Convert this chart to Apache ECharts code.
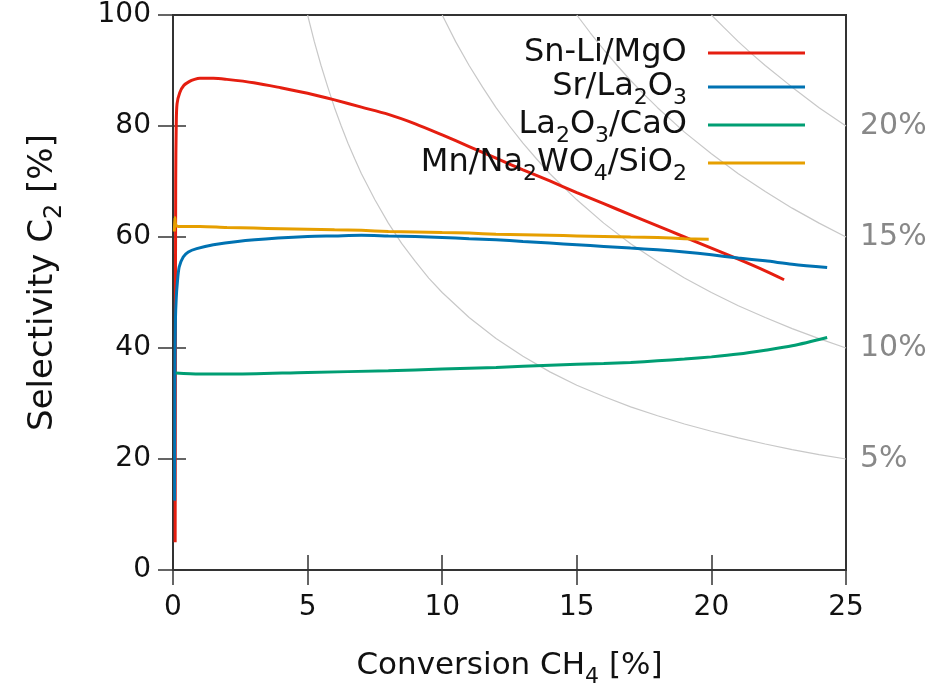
<!DOCTYPE html>
<html><head><meta charset="utf-8">
<script src="https://cdn.jsdelivr.net/npm/echarts@6/dist/echarts.min.js"></script>
<style>html,body{margin:0;padding:0;background:#fff}#c{width:936px;height:687px}</style>
</head><body><div id="c"></div>
<script>
// Axis ticks
const xTickStep = 5;
const yTickStep = 20;
// Right axis: iso-yield labels placed at selectivity positions
const yieldTickValues = [20, 40, 60, 80];
const yieldTickLabels = ['5%', '10%', '15%', '20%'];

// Series names
const seriesNames = ['Sn-Li/MgO', 'Sr/La2O3', 'La2O3/CaO', 'Mn/Na2WO4/SiO2'];

// Sn-Li/MgO
const snLiX = [0.08, 0.09, 0.10, 0.12, 0.15, 0.25, 0.4, 0.6, 0.8, 1.0, 1.5, 2, 3, 4, 5, 6, 7, 8, 9, 10, 11, 12, 13, 14, 15, 16, 17, 18, 19, 20, 21, 22, 22.7];
const snLiY = [5, 40, 70, 80, 84, 86, 87.3, 88, 88.4, 88.6, 88.6, 88.4, 87.8, 86.9, 85.9, 84.7, 83.4, 82.1, 80.4, 78.4, 76.3, 74.2, 72.1, 70.1, 68.0, 66.0, 64.0, 62.0, 60.0, 58.0, 56.0, 53.9, 52.3];

// Sr/La2O3
const srLaX = [0.06, 0.07, 0.09, 0.12, 0.16, 0.23, 0.38, 0.57, 0.88, 1.5, 2.4, 3.9, 5, 6, 7, 8, 9, 10, 11, 12, 13, 14, 15, 16, 17, 18, 19, 20, 21, 22, 23, 24.3];
const srLaY = [12.5, 35, 45, 49, 51.7, 54.6, 56.4, 57.3, 57.9, 58.6, 59.2, 59.8, 60.1, 60.2, 60.3, 60.2, 60.1, 59.9, 59.7, 59.5, 59.2, 58.9, 58.6, 58.3, 58.0, 57.7, 57.3, 56.8, 56.2, 55.7, 55.1, 54.5];

// La2O3/CaO
const laCaX = [0.1, 1, 2, 5, 8, 10, 12, 14, 16, 17, 18, 19, 20, 21, 22, 23, 24.3];
const laCaY = [35.5, 35.3, 35.3, 35.6, 35.9, 36.2, 36.5, 36.9, 37.2, 37.4, 37.7, 38.0, 38.4, 38.9, 39.6, 40.4, 41.9];

// Mn/Na2WO4/SiO2
const mnNaX = [0.05, 0.07, 0.1, 0.2, 1, 2, 3, 4, 5, 6, 7, 8, 9, 10, 11, 12, 13, 14, 15, 16, 17, 18, 19, 19.9];
const mnNaY = [61, 63.5, 62.2, 61.9, 61.9, 61.7, 61.6, 61.5, 61.4, 61.3, 61.2, 61.0, 60.9, 60.8, 60.7, 60.5, 60.4, 60.3, 60.2, 60.1, 60.0, 59.9, 59.7, 59.6];

// Iso-yield guide curves
const iso5X = [5, 5.25, 5.5, 5.75, 6, 6.25, 6.5, 6.75, 7, 7.5, 8, 8.5, 9, 9.5, 10, 11, 12, 13, 14, 15, 16, 17, 18, 19, 20, 21, 22, 23, 24, 25];
const iso5Y = [100, 95.2, 90.9, 87.0, 83.3, 80, 76.9, 74.1, 71.4, 66.7, 62.5, 58.8, 55.6, 52.6, 50, 45.5, 41.7, 38.5, 35.7, 33.3, 31.25, 29.4, 27.8, 26.3, 25, 23.8, 22.7, 21.7, 20.8, 20];
const iso10X = [10, 10.5, 11, 11.5, 12, 12.5, 13, 13.5, 14, 15, 16, 17, 18, 19, 20, 21, 22, 23, 24, 25];
const iso10Y = [100, 95.2, 90.9, 87.0, 83.3, 80, 76.9, 74.1, 71.4, 66.7, 62.5, 58.8, 55.6, 52.6, 50, 47.6, 45.5, 43.5, 41.7, 40];
const iso15X = [15, 15.5, 16, 16.5, 17, 17.5, 18, 19, 20, 21, 22, 23, 24, 25];
const iso15Y = [100, 96.8, 93.75, 90.9, 88.2, 85.7, 83.3, 78.9, 75, 71.4, 68.2, 65.2, 62.5, 60];
const iso20X = [20, 20.5, 21, 21.5, 22, 23, 24, 25];
const iso20Y = [100, 97.6, 95.2, 93.0, 90.9, 87.0, 83.3, 80];

const colors = ['#e51e10', '#0072b2', '#009e73', '#e69f00'];
const FONT = 'DejaVu Sans';

function pairs(xs, ys) { return xs.map((x, i) => [x, ys[i]]); }

const richNames = {
  'Sn-Li/MgO': '{n|Sn-Li/MgO}{z| }',
  'Sr/La2O3': '{n|Sr/La}{s|2}{n|O}{s|3}',
  'La2O3/CaO': '{n|La}{s|2}{n|O}{s|3}{n|/CaO}',
  'Mn/Na2WO4/SiO2': '{n|Mn/Na}{s|2}{n|WO}{s|4}{n|/SiO}{s|2}'
};

// subscript: small token bottom-aligned in a box so that its centre sits `shift` px below the line centre
function rich(size, sub, lh, shift) {
  const h = lh - 2 * shift;
  return {
    n: { fontSize: size, fontFamily: FONT, color: '#111', lineHeight: lh },
    s: { fontSize: sub, fontFamily: FONT, color: '#111', lineHeight: h, height: h, verticalAlign: 'bottom' },
    z: { fontSize: 1, fontFamily: FONT, color: '#111', lineHeight: h, height: h, verticalAlign: 'bottom' }
  };
}

const isoStyle = { color: '#c8c8c8', width: 1.2 };
function isoSeries(xs, ys) {
  return { type: 'line', data: pairs(xs, ys), showSymbol: false, smooth: false,
    lineStyle: isoStyle, silent: true, z: 1, animation: false, xAxisIndex: 0, yAxisIndex: 0 };
}
function dataSeries(name, xs, ys, i) {
  return { name: name, type: 'line', data: pairs(xs, ys), showSymbol: false, smooth: 0.3,
    lineStyle: { color: colors[i], width: 3 }, itemStyle: { color: colors[i] }, z: 3 + i, animation: false };
}

const chart = echarts.init(document.getElementById('c'), null, { renderer: 'canvas' });
chart.setOption({
  backgroundColor: '#fff',
  animation: false,
  grid: { left: 173, right: 90, top: 15, bottom: 117, outerBoundsMode: 'none', containLabel: false,
    show: true, borderColor: '#333', borderWidth: 2, backgroundColor: 'transparent' },
  legend: {
    data: seriesNames, orient: 'vertical', right: 131, top: 37, padding: 0, itemGap: 0,
    align: 'right', icon: 'rect', itemWidth: 97, itemHeight: 3,
    formatter: n => richNames[n],
    textStyle: { rich: rich(32, 22, 36, 11), padding: [0, 16, 0, 0] }
  },
  xAxis: [
    { type: 'value', min: 0, max: 25, interval: xTickStep, position: 'bottom',
      name: '{n|Conversion CH}{s|4}{n| [%]}', nameLocation: 'middle', nameGap: 78,
      nameTextStyle: { rich: rich(31, 22, 36, 11) },
      axisLine: { show: false }, splitLine: { show: false },
      axisTick: { show: true, inside: true, length: 15, lineStyle: { color: '#333', width: 1.5 } },
      axisLabel: { fontSize: 28, fontFamily: FONT, color: '#111', margin: 24 } },
    { type: 'value', min: 0, max: 25, interval: xTickStep, position: 'top',
      axisLine: { show: false }, splitLine: { show: false },
      axisTick: { show: true, inside: true, length: 15, lineStyle: { color: '#333', width: 1.5 } },
      axisLabel: { show: false } }
  ],
  yAxis: [
    { type: 'value', min: 0, max: 100, interval: yTickStep, position: 'left',
      name: '{n|Selectivity C}{s|2}{n| [%]}', nameLocation: 'middle', nameGap: 110, nameRotate: 90,
      nameTextStyle: { rich: rich(34, 24, 40, 12), padding: [0, 0, 0, 20] },
      axisLine: { show: false }, splitLine: { show: false },
      axisTick: { show: true, inside: true, length: 13, lineStyle: { color: '#333', width: 1.5 } },
      axisLabel: { fontSize: 28, fontFamily: FONT, color: '#111', margin: 22 } },
    { type: 'value', min: 0, max: 100, interval: yTickStep, position: 'right',
      axisLine: { show: false }, splitLine: { show: false },
      axisTick: { show: true, inside: true, length: 15, lineStyle: { color: '#333', width: 1.5 } },
      axisLabel: { fontSize: 30, fontFamily: FONT, color: '#888', margin: 14,
        formatter: v => { const k = yieldTickValues.indexOf(v); return k >= 0 ? yieldTickLabels[k] : ''; } } }
  ],
  series: [
    isoSeries(iso5X, iso5Y), isoSeries(iso10X, iso10Y), isoSeries(iso15X, iso15Y), isoSeries(iso20X, iso20Y),
    dataSeries(seriesNames[0], snLiX, snLiY, 0),
    dataSeries(seriesNames[1], srLaX, srLaY, 1),
    dataSeries(seriesNames[2], laCaX, laCaY, 2),
    dataSeries(seriesNames[3], mnNaX, mnNaY, 3)
  ]
});
</script></body></html>
